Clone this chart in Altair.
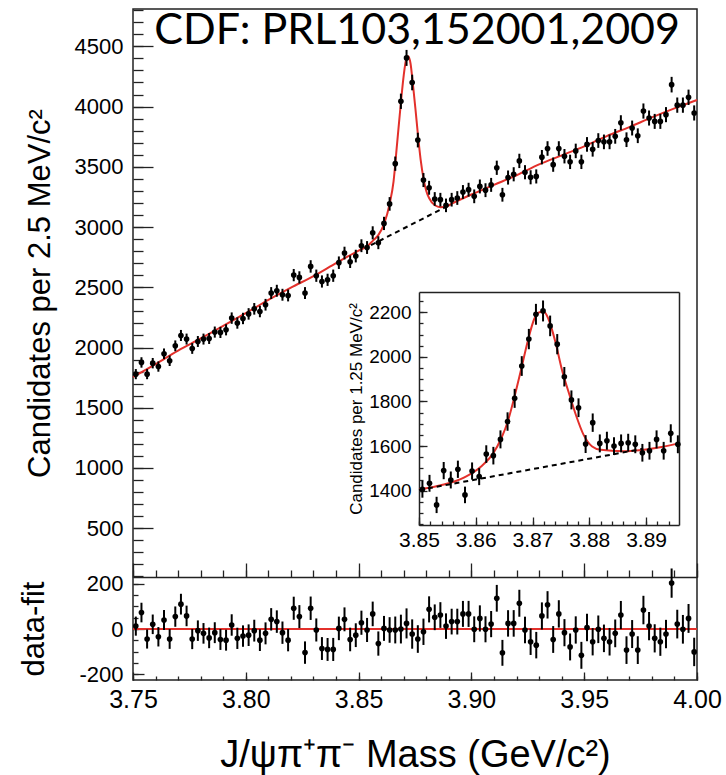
import altair as alt
import pandas as pd
import numpy as np

# ---------------- data ----------------
main_counts = [1779, 1876, 1779, 1870, 1842, 1948, 1890, 2014, 2100, 2070,
               1992, 2050, 2070, 2075, 2128, 2125, 2147, 2244, 2203, 2241,
               2279, 2321, 2299, 2355, 2452, 2471, 2438, 2432, 2601, 2582,
               2452, 2673, 2596, 2548, 2562, 2596, 2704, 2784, 2712, 2759,
               2845, 2830, 2952, 2870, 3030, 3192, 3526, 4044, 4404, 4200,
               3722, 3390, 3326, 3233, 3227, 3180, 3227, 3241, 3291, 3310,
               3255, 3337, 3306, 3350, 3492, 3268, 3411, 3438, 3549, 3455,
               3413, 3420, 3580, 3652, 3518, 3652, 3588, 3541, 3632, 3541,
               3686, 3645, 3718, 3707, 3707, 3753, 3866, 3725, 3822, 3758,
               3963, 3905, 3877, 3877, 3933, 4182, 4012, 4012, 4077, 3947]
main_mass = [round(3.75125 + 0.0025 * i, 5) for i in range(len(main_counts))]

residuals = [13, 73, -44, 21, -34, 40, -44, 55, 110, 58,
             -44, -7, -19, -39, -16, -46, -49, 18, -41, -31,
             -27, -7, -49, -19, 43, 33, -16, -49, 92, 55,
             -104, 92, -4, -86, -90, -90, 3, 43, -46, -27,
             28, -4, 67, -64, 3, -4, -4, 0, 25, -22,
             -44, -12, 87, 52, 62, 13, 33, 33, 67, 67,
             -1, 47, -1, 22, 136, -105, 25, 25, 114, -4,
             -56, -71, 58, 107, -46, 67, -16, -79, -4, -116,
             7, -56, -1, -41, -56, -19, 62, -93, -22, -93,
             84, 13, -41, -56, -22, 203, 22, -1, 47, -101]

inset_counts = [1406, 1433, 1336, 1490, 1448, 1496, 1381, 1488, 1463, 1564,
                1557, 1630, 1710, 1814, 1959, 2080, 2191, 2206, 2139, 2057,
                1911, 1807, 1772, 1609, 1705, 1612, 1624, 1600, 1612, 1615,
                1608, 1570, 1579, 1630, 1579, 1657, 1608]
inset_mass = [round(3.8506 + 0.00125 * i, 6) for i in range(len(inset_counts))]

main_fit_x = [3.7500, 3.7600, 3.7700, 3.7800, 3.7900, 3.8000, 3.8100, 3.8200,
              3.8300, 3.8400, 3.8500, 3.8538, 3.8563, 3.8588, 3.8613, 3.8638,
              3.8655, 3.8670, 3.8688, 3.8700, 3.8712, 3.8720, 3.8730, 3.8740,
              3.8752, 3.8763, 3.8775, 3.8788, 3.8800, 3.8813, 3.8838, 3.8863,
              3.8888, 3.8913, 3.9000, 3.9100, 3.9200, 3.9300, 3.9400, 3.9500,
              3.9600, 3.9700, 3.9800, 3.9900, 4.0000]
main_fit_y = [1755, 1862, 1975, 2075, 2180, 2285, 2395, 2497,
              2592, 2700, 2805, 2840, 2885, 2935, 3027, 3196,
              3380, 3680, 4044, 4260, 4400, 4418, 4360, 4200,
              3980, 3766, 3560, 3400, 3300, 3239, 3181, 3165,
              3170, 3194, 3270, 3350, 3430, 3520, 3595, 3670,
              3755, 3830, 3910, 3985, 4055]
main_bg_x = [3.8555, 3.8890]
main_bg_y = [2850, 3170]

inset_fit_x = [3.8500, 3.8540, 3.8580, 3.8610, 3.8630, 3.8645, 3.8657, 3.8668,
               3.8680, 3.8692, 3.8703, 3.8712, 3.8720, 3.8728, 3.8740, 3.8752,
               3.8765, 3.8777, 3.8790, 3.8805, 3.8820, 3.8860, 3.8900, 3.8930,
               3.8958]
inset_fit_y = [1405, 1425, 1460, 1510, 1565, 1635, 1715, 1820,
               1945, 2075, 2170, 2200, 2202, 2170, 2070, 1940,
               1830, 1735, 1650, 1598, 1583, 1577, 1585, 1597,
               1612]
inset_bg_x = [3.8500, 3.8895]
inset_bg_y = [1403, 1588]

main_x_major = [3.75, 3.80, 3.85, 3.90, 3.95, 4.00]
main_x_minor = [round(3.75 + 0.01 * i, 2) for i in range(26)]
main_y_major = [500, 1000, 1500, 2000, 2500, 3000, 3500, 4000, 4500]
main_y_minor = list(range(100, 4900, 100))
res_y_major = [-200, 0, 200]
res_y_minor = list(range(-200, 201, 50))
ins_x_major = [3.85, 3.86, 3.87, 3.88, 3.89]
ins_x_minor = [round(3.85 + 0.002 * i, 3) for i in range(23)]
ins_y_major = [1400, 1600, 1800, 2000, 2200]
ins_y_minor = list(range(1250, 2291, 50))

# ---------------- tables ----------------
main_df = pd.DataFrame({"m": main_mass, "n": main_counts})
main_df["lo"] = main_df["n"] - np.sqrt(main_df["n"])
main_df["hi"] = main_df["n"] + np.sqrt(main_df["n"])

res_df = pd.DataFrame({"m": main_mass, "r": residuals})
res_df["lo"] = res_df["r"] - np.sqrt(main_df["n"])
res_df["hi"] = res_df["r"] + np.sqrt(main_df["n"])

ins_df = pd.DataFrame({"m": inset_mass, "n": inset_counts})
ins_df["lo"] = ins_df["n"] - np.sqrt(ins_df["n"])
ins_df["hi"] = ins_df["n"] + np.sqrt(ins_df["n"])

mfit_df = pd.DataFrame({"m": main_fit_x, "f": main_fit_y})
mbg_df = pd.DataFrame({"m": main_bg_x, "f": main_bg_y})
ifit_df = pd.DataFrame({"m": inset_fit_x, "f": inset_fit_y})
ibg_df = pd.DataFrame({"m": inset_bg_x, "f": inset_bg_y})
zero_df = pd.DataFrame({"z": [0]})

# ---------------- layout ----------------
W, H = 564, 671
MAIN_B = 568
RED = "#e3302b"
FONT = "Liberation Sans"

sx_main = alt.Scale(domain=[3.75, 4.0], range=[0, W], nice=False, zero=False)
sy_main = alt.Scale(domain=[95, 4810], range=[MAIN_B, 0], nice=False, zero=False)
sy_res = alt.Scale(domain=[-225, 230], range=[H, MAIN_B], nice=False, zero=False)
sx_ins = alt.Scale(domain=[3.85, 3.8958], range=[286, 546], nice=False, zero=False)
sy_ins = alt.Scale(domain=[1246, 2291], range=[516, 283], nice=False, zero=False)


def tick_axis(orient, offset, values, size, domain=False):
    return alt.Axis(orient=orient, offset=offset, values=values, ticks=True,
                    tickSize=size, tickWidth=1.3, labels=False, domain=domain,
                    domainWidth=1.5, grid=False, title=None)


def frame_axis(orient, offset):
    return alt.Axis(orient=orient, offset=offset, ticks=False,
                    labels=False, domain=True, domainWidth=1.5, grid=False, title=None)


def dummy(df, xf, yf, sx, sy, xaxis, yaxis):
    return alt.Chart(df).mark_point(opacity=0).encode(
        x=alt.X(xf, scale=sx, axis=xaxis),
        y=alt.Y(yf, scale=sy, axis=yaxis),
    )


def plot_layer(err_df, pts_field, fit_df, bg_df, sx, sy):
    parts = []
    if fit_df is not None:
        parts.append(alt.Chart(fit_df).mark_line(color=RED, strokeWidth=2, interpolate="monotone").encode(
            x=alt.X("m:Q", scale=sx, axis=None), y=alt.Y("f:Q", scale=sy, axis=None)))
    if bg_df is not None:
        parts.append(alt.Chart(bg_df).mark_line(color="black", strokeWidth=2, strokeDash=[5, 4]).encode(
            x=alt.X("m:Q", scale=sx, axis=None), y=alt.Y("f:Q", scale=sy, axis=None)))
    parts.append(alt.Chart(err_df).mark_rule(color="black", strokeWidth=2).encode(
        x=alt.X("m:Q", scale=sx, axis=None), y=alt.Y("lo:Q", scale=sy, axis=None), y2="hi:Q"))
    parts.append(alt.Chart(err_df).mark_circle(color="black", size=32, opacity=1).encode(
        x=alt.X("m:Q", scale=sx, axis=None), y=alt.Y(pts_field, scale=sy, axis=None)))
    return alt.layer(*parts)


# ---- main panel ----
main_layer = plot_layer(main_df, "n:Q", mfit_df, mbg_df, sx_main, sy_main)
main_lab = dummy(main_df, "m:Q", "n:Q", sx_main, sy_main,
                 tick_axis("top", -MAIN_B, main_x_major, 14, domain=True),
                 alt.Axis(orient="left", values=main_y_major, format="d", labelFontSize=22,
                          labelPadding=10, ticks=False, domain=False, grid=False,
                          labelOverlap=False, labelFlush=False,
                          title="Candidates per 2.5 MeV/c²", titleFontSize=31, titlePadding=18))
main_t1 = dummy(main_df, "m:Q", "n:Q", sx_main, sy_main,
                tick_axis("top", -MAIN_B, main_x_minor, 7),
                tick_axis("right", -W, main_y_major, 20))
main_t2 = dummy(main_df, "m:Q", "n:Q", sx_main, sy_main, None,
                tick_axis("right", -W, main_y_minor, 10))

# ---- residual panel ----
res_zero = alt.Chart(zero_df).mark_rule(color=RED, strokeWidth=2).encode(
    y=alt.Y("z:Q", scale=sy_res, axis=None))
res_layer = alt.layer(res_zero, plot_layer(res_df, "r:Q", None, None, sx_main, sy_res))
res_lab = dummy(res_df, "m:Q", "r:Q", sx_main, sy_res,
                alt.Axis(orient="bottom", values=main_x_major, format=".2f", labelFontSize=25,
                         labelPadding=7, tickSize=0, tickOpacity=0, domain=False, grid=False,
                         labelOverlap=False, labelFlush=False,
                         title="J/ψπ⁺π⁻ Mass (GeV/c²)", titleFontSize=38, titlePadding=24),
                alt.Axis(orient="left", values=res_y_major,
                         labelExpr="datum.value < 0 ? '-' + abs(datum.value) : '' + datum.value",
                         labelFontSize=22, labelPadding=10, tickSize=0, tickOpacity=0,
                         labelOverlap=False, labelFlush=False,
                         domain=False, grid=False, title="data-fit", titleFontSize=31,
                         titlePadding=28))
res_t1 = dummy(res_df, "m:Q", "r:Q", sx_main, sy_res,
               tick_axis("top", -H, main_x_major, 8),
               tick_axis("right", -W, res_y_major, 11))
res_t2 = dummy(res_df, "m:Q", "r:Q", sx_main, sy_res,
               tick_axis("top", -H, main_x_minor, 4),
               tick_axis("right", -W, res_y_minor, 5))

# ---- inset ----
ins_layer = plot_layer(ins_df, "n:Q", ifit_df, ibg_df, sx_ins, sy_ins)
ins_lab = dummy(ins_df, "m:Q", "n:Q", sx_ins, sy_ins,
                alt.Axis(orient="bottom", offset=-(H - 516), values=ins_x_major, format=".2f",
                         labelFontSize=21, labelPadding=4, ticks=False, tickSize=0, domain=True,
                         labelOverlap=False, labelFlush=False,
                         domainWidth=1.5, grid=False, title=None),
                alt.Axis(orient="left", offset=-286, values=ins_y_major, format="d",
                         labelFontSize=19, labelPadding=8, ticks=False, tickSize=0, domain=True,
                         labelOverlap=False, labelFlush=False,
                         domainWidth=1.5, grid=False, title="Candidates per 1.25 MeV/c²",
                         titleFontSize=17, titlePadding=3))
ins_f = dummy(ins_df, "m:Q", "n:Q", sx_ins, sy_ins,
              frame_axis("top", -283), frame_axis("right", -(W - 546)))
ins_t1 = dummy(ins_df, "m:Q", "n:Q", sx_ins, sy_ins,
               tick_axis("top", -516, ins_x_major, 8),
               tick_axis("right", -(W - 286), ins_y_major, 8))
ins_t2 = dummy(ins_df, "m:Q", "n:Q", sx_ins, sy_ins,
               tick_axis("top", -516, ins_x_minor, 4),
               tick_axis("right", -(W - 286), ins_y_minor, 4))

chart = alt.layer(
    main_layer, main_lab, main_t1, main_t2,
    res_layer, res_lab, res_t1, res_t2,
    ins_layer, ins_lab, ins_f, ins_t1, ins_t2,
).resolve_scale(
    x="independent", y="independent"
).properties(
    width=W, height=H,
    background="white",
    autosize=alt.AutoSizeParams(type="none"),
    padding={"left": 133, "top": 9, "right": 29, "bottom": 95},
    title=alt.TitleParams(text="CDF: PRL103,152001,2009", font="Lato", fontSize=43,
                          fontWeight="normal", color="black", anchor="end", frame="group",
                          orient="top", offset=-38, baseline="alphabetic", dx=-17, dy=40),
).configure_view(
    stroke="#222222", strokeWidth=1.5
).configure_axis(
    labelFont=FONT, titleFont=FONT, labelColor="black", titleColor="black",
    domainColor="#222222", tickColor="#222222", titleFontWeight="normal", grid=False
)

chart.save("out.html", embed_options={"renderer": "svg", "actions": False})
